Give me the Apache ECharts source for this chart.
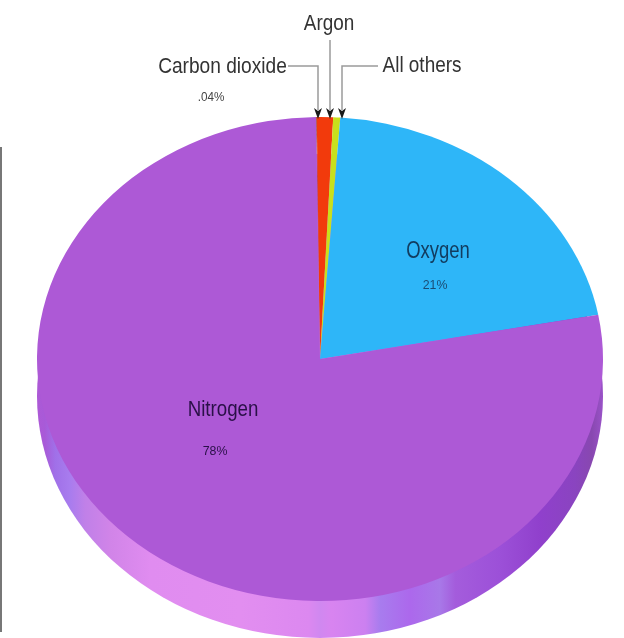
<!DOCTYPE html>
<html>
<head>
<meta charset="utf-8">
<style>html,body{margin:0;padding:0;background:#fff}#chart{width:624px;height:638px}</style>
<script src="https://cdn.jsdelivr.net/npm/echarts@6/dist/echarts.min.js"></script>
</head>
<body>
<div id="chart"></div>
<script>
// Composition of dry air, drawn clockwise from just left of twelve o'clock.
const gases = ['Carbon dioxide', 'Argon', 'All others', 'Oxygen', 'Nitrogen'];
const shares = [0.04, 0.93, 0.4, 21, 78];
const sliceColors = ['#8a1f0c', '#f23a0c', '#c8e01c', '#2eb6f8', '#ad59d6'];
const pctLabels = ['.04%', '21%', '78%'];

// Tilted disc geometry
const CX = 320, CY = 359, RX = 283, RY = 242, DEPTH = 37;
const START_DEG = -0.8;

const total = shares.reduce((a, b) => a + b, 0);
const rad = d => (d - 90) * Math.PI / 180;

function sliceItem(params, api) {
  const i = params.dataIndex;
  const before = shares.slice(0, i).reduce((a, b) => a + b, 0);
  const a0 = START_DEG + before / total * 360;
  const a1 = a0 + api.value(1) / total * 360;
  return {
    type: 'sector',
    x: CX, y: CY, scaleX: 1, scaleY: RY / RX,
    shape: { cx: 0, cy: 0, r0: 0, r: RX, startAngle: rad(a0), endAngle: rad(a1), clockwise: true },
    style: { fill: sliceColors[i] }
  };
}

// Side wall of the disc, visible only below the top face
function wallItem() {
  return {
    type: 'circle',
    x: CX, y: CY + DEPTH, scaleX: 1, scaleY: RY / RX,
    shape: { cx: 0, cy: 0, r: RX },
    style: {
      fill: {
        type: 'linear', x: 0, y: 0, x2: 1, y2: 0,
        colorStops: [
          { offset: 0, color: '#ad59d6' },
          { offset: 0.014, color: '#a85ad8' },
          { offset: 0.032, color: '#a070e8' },
          { offset: 0.058, color: '#a87cee' },
          { offset: 0.085, color: '#c080e8' },
          { offset: 0.13, color: '#d184e8' },
          { offset: 0.2, color: '#e08cf0' },
          { offset: 0.36, color: '#e28ef0' },
          { offset: 0.48, color: '#dc88f0' },
          { offset: 0.5, color: '#d088f0' },
          { offset: 0.52, color: '#d884f0' },
          { offset: 0.58, color: '#cc80f0' },
          { offset: 0.606, color: '#a87cee' },
          { offset: 0.659, color: '#ac68ec' },
          { offset: 0.712, color: '#a878e8' },
          { offset: 0.739, color: '#a45cdc' },
          { offset: 0.818, color: '#9c50d8' },
          { offset: 0.889, color: '#9040cc' },
          { offset: 0.95, color: '#8a44c0' },
          { offset: 0.98, color: '#8848b0' },
          { offset: 1, color: '#9a52c8' }
        ]
      }
    }
  };
}

const TOP = 10;
function calloutLine(points) {
  return { type: 'polyline', silent: true, z: TOP, shape: { points }, style: { stroke: '#9a9a9a', lineWidth: 1.5, fill: null } };
}
function arrowHead(x) {
  return { type: 'polygon', silent: true, z: TOP, shape: { points: [[x - 4, 108], [x, 111], [x + 4, 108], [x, 119]] }, style: { fill: '#1a1a1a' } };
}
function textEl(text, x, y, size, color, scaleX) {
  return {
    type: 'text', silent: true, z: TOP, x, y, scaleX: scaleX || 1,
    style: { text, fill: color, font: size + 'px "Liberation Sans", Arial, sans-serif', textAlign: 'center', textVerticalAlign: 'middle' }
  };
}

const chart = echarts.init(document.getElementById('chart'), null, { renderer: 'canvas' });
chart.setOption({
  animation: false,
  backgroundColor: '#fff',
  xAxis: { show: false }, yAxis: { show: false },
  series: [
    { type: 'custom', coordinateSystem: 'none', silent: true, data: [[0]], renderItem: wallItem, z: 1 },
    { type: 'custom', coordinateSystem: 'none', silent: true,
      data: gases.map((g, i) => ({ name: g, value: [i, shares[i]] })), renderItem: sliceItem, z: 2 }
  ],
  graphic: [
    { type: 'line', silent: true, z: TOP, shape: { x1: 1, y1: 147, x2: 1, y2: 632 }, style: { stroke: '#777', lineWidth: 2 } },
    calloutLine([[288, 66], [318, 66], [318, 110]]),
    calloutLine([[330, 40], [330, 110]]),
    calloutLine([[378, 66], [342, 66], [342, 110]]),
    arrowHead(318), arrowHead(330), arrowHead(342),
    textEl(gases[1], 329, 24, 22, '#333', 0.86),
    textEl(gases[0], 222.5, 67, 22, '#333', 0.87),
    textEl(gases[2], 422, 66, 22, '#333', 0.86),
    textEl(pctLabels[0], 211, 97, 13, '#444', 0.9),
    textEl(gases[3], 438, 251, 24, '#123d60', 0.77),
    textEl(pctLabels[1], 435, 285, 13, '#1a4c74', 0.95),
    textEl(gases[4], 223, 410, 22, '#2a1048', 0.85),
    textEl(pctLabels[2], 215, 451, 13, '#2a1048', 0.95)
  ]
});
</script>
</body>
</html>
